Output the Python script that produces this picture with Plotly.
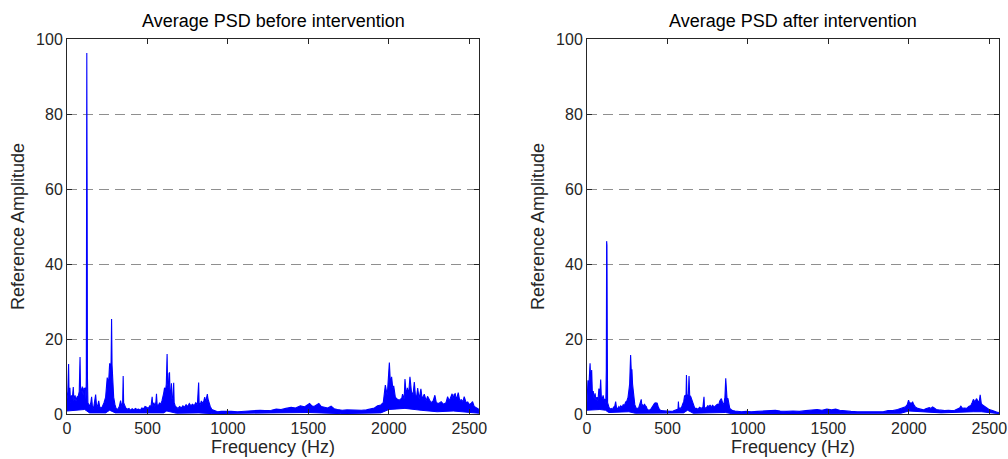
import plotly.graph_objects as go

# Upper envelope of the averaged spectrum before the intervention: (Hz, amplitude)
before_upper = [
    (0, 4.0), (5, 6.0), (10, 13.3), (13, 5.0), (18, 7.0), (22, 3.0), (28, 5.0), (33, 4.0),
    (39, 7.2), (43, 3.5), (50, 5.0), (56, 3.5), (62, 4.5), (70, 4.8), (76, 6.0), (81, 15.2),
    (84, 7.0), (90, 6.0), (95, 7.3), (100, 5.0), (105, 7.0), (110, 6.5), (115, 7.0), (118, 4.0),
    (120, 10.0), (121, 60.5), (122, 83.0), (123, 96.3), (124, 83.0), (125, 60.0), (127, 10.0),
    (130, 3.0), (140, 2.0), (148, 3.0), (153, 4.6), (158, 2.0), (165, 1.5), (172, 3.0),
    (178, 5.2), (183, 2.5), (190, 2.0), (197, 3.5), (203, 2.0), (210, 1.5), (220, 2.0),
    (230, 3.0), (240, 4.5), (250, 9.7), (258, 8.0), (265, 13.5), (270, 12.0), (274, 14.0),
    (277, 25.3), (280, 13.0), (284, 9.0), (290, 4.5), (298, 2.5), (305, 1.5), (315, 1.2),
    (325, 2.0), (333, 3.6), (340, 2.0), (346, 3.0), (349, 10.1), (352, 3.0), (358, 2.0),
    (365, 1.6), (375, 1.3), (385, 1.5), (395, 1.0), (405, 1.4), (415, 1.1), (425, 1.5),
    (435, 1.2), (445, 1.3), (455, 1.0), (465, 1.6), (475, 1.4), (485, 2.0), (495, 1.8),
    (505, 1.5), (515, 2.2), (522, 2.0), (529, 4.6), (533, 2.0), (540, 3.0), (546, 2.0),
    (552, 3.0), (556, 5.4), (560, 2.5), (568, 2.2), (575, 3.0), (582, 2.5), (590, 3.5),
    (596, 4.5), (601, 5.6), (606, 7.0), (612, 6.0), (617, 8.0), (622, 16.0), (625, 8.0),
    (630, 7.0), (634, 10.8), (637, 11.1), (640, 6.0), (645, 5.0), (649, 8.2), (652, 4.0),
    (658, 4.5), (663, 8.3), (666, 3.0), (672, 2.2), (680, 1.8), (690, 1.5), (700, 2.0),
    (710, 1.6), (720, 2.2), (730, 1.8), (740, 2.5), (750, 2.0), (760, 2.8), (770, 2.2),
    (780, 2.6), (790, 2.2), (800, 3.0), (810, 2.5), (818, 8.4), (821, 3.0), (828, 2.5),
    (835, 3.5), (842, 2.8), (850, 3.5), (856, 4.5), (862, 3.0), (868, 4.5), (872, 5.3),
    (876, 4.0), (882, 3.0), (890, 2.0), (900, 1.2), (910, 1.0), (920, 0.8), (935, 0.6),
    (960, 0.7), (990, 0.6), (1020, 0.7), (1060, 0.6), (1100, 0.7), (1130, 0.8), (1150, 1.0),
    (1175, 0.9), (1200, 1.0), (1230, 0.9), (1270, 1.0), (1300, 1.3), (1330, 1.2), (1360, 1.5),
    (1393, 1.8), (1420, 1.6), (1450, 2.2), (1475, 1.9), (1490, 2.3), (1507, 2.8), (1520, 2.2),
    (1535, 2.0), (1550, 2.4), (1565, 2.8), (1580, 2.0), (1600, 1.8), (1620, 1.6), (1641, 2.1),
    (1660, 1.4), (1680, 1.2), (1710, 1.0), (1740, 1.1), (1770, 1.0), (1800, 1.1), (1830, 1.0),
    (1860, 1.1), (1890, 1.3), (1910, 1.6), (1930, 2.2), (1950, 2.4), (1965, 3.0), (1978, 7.7),
    (1990, 5.0), (2003, 13.7), (2010, 8.0), (2017, 9.9), (2024, 7.0), (2030, 7.5), (2040, 4.5),
    (2050, 4.0), (2065, 3.7), (2080, 4.2), (2085, 5.3), (2095, 4.0), (2100, 9.3), (2108, 5.0),
    (2115, 7.0), (2122, 5.0), (2131, 9.9), (2140, 6.0), (2150, 5.0), (2158, 8.5), (2165, 5.0),
    (2172, 4.5), (2179, 6.9), (2188, 4.0), (2199, 6.7), (2207, 4.0), (2220, 5.3), (2232, 3.5),
    (2240, 4.7), (2251, 3.6), (2262, 3.0), (2275, 3.5), (2286, 5.0), (2295, 3.0), (2310, 2.8),
    (2325, 3.3), (2340, 2.6), (2355, 3.0), (2365, 4.6), (2375, 3.5), (2385, 4.5), (2393, 5.4),
    (2400, 4.0), (2405, 5.2), (2412, 5.4), (2420, 3.8), (2431, 5.7), (2440, 3.6), (2450, 3.8),
    (2460, 3.3), (2468, 4.6), (2480, 3.0), (2490, 3.2), (2499, 2.5), (2510, 2.8), (2520, 3.3),
    (2530, 2.0), (2545, 1.6), (2560, 1.2),
]

# Lower envelope of the same spectrum
before_lower = [
    (0, 0.8), (60, 1.0), (110, 1.2), (140, 0.3), (240, 0.3), (265, 1.0), (300, 0.3),
    (600, 0.3), (620, 0.8), (680, 0.2), (820, 0.3), (900, 0.1), (1400, 0.2), (1500, 0.4),
    (1700, 0.1), (1950, 0.3), (2000, 1.2), (2100, 1.5), (2200, 1.0), (2300, 0.6),
    (2400, 0.8), (2480, 0.6), (2560, 0.2),
]

# Upper envelope of the averaged spectrum after the intervention
after_upper = [
    (0, 3.0), (3, 5.5), (6, 9.0), (10, 6.0), (14, 11.0), (19, 13.5), (23, 9.0), (29, 11.7),
    (33, 6.0), (39, 6.0), (44, 4.0), (50, 5.5), (56, 3.7), (62, 4.5), (68, 3.5), (74, 6.8),
    (80, 5.0), (85, 9.2), (89, 4.6), (95, 4.0), (100, 5.0), (106, 3.7), (112, 4.0), (117, 3.0),
    (120, 12.0), (121, 40.0), (122, 46.1), (124, 45.0), (126, 20.0), (128, 3.0), (135, 2.0),
    (142, 1.3), (150, 1.5), (158, 1.2), (165, 1.8), (172, 2.0), (178, 3.3), (183, 1.8),
    (190, 1.3), (198, 2.0), (205, 1.6), (210, 2.2), (218, 1.8), (225, 2.5), (232, 2.2),
    (240, 3.2), (248, 3.5), (255, 4.5), (260, 6.2), (265, 8.0), (268, 12.0), (271, 15.7),
    (275, 11.5), (279, 11.9), (283, 8.0), (288, 6.0), (291, 4.6), (297, 2.5), (305, 1.6),
    (312, 1.5), (320, 1.5), (327, 2.5), (333, 3.3), (337, 3.9), (341, 2.2), (346, 2.4),
    (351, 1.8), (357, 2.7), (362, 2.2), (368, 2.0), (375, 1.2), (385, 1.0), (395, 1.2),
    (405, 1.8), (413, 2.6), (420, 2.9), (428, 3.0), (436, 2.9), (442, 2.0), (450, 1.2),
    (460, 0.9), (475, 0.8), (490, 0.7), (505, 0.8), (520, 0.7), (535, 0.8), (550, 1.0),
    (560, 1.2), (565, 1.0), (568, 3.3), (571, 1.2), (578, 1.6), (585, 1.5), (590, 2.5),
    (596, 2.8), (601, 3.3), (606, 4.8), (612, 5.0), (615, 4.0), (618, 10.4), (621, 5.0),
    (626, 4.6), (630, 5.5), (634, 10.1), (638, 5.0), (645, 4.6), (650, 4.0), (656, 3.0),
    (663, 2.4), (670, 1.5), (680, 1.5), (690, 1.3), (700, 1.8), (710, 1.5), (720, 1.8),
    (727, 4.6), (730, 1.8), (740, 1.5), (750, 2.2), (758, 2.0), (765, 2.4), (772, 1.6),
    (780, 2.4), (790, 1.8), (800, 2.2), (810, 2.6), (818, 2.4), (825, 3.5), (835, 4.1),
    (840, 3.0), (846, 2.5), (852, 3.0), (857, 4.5), (862, 9.5), (865, 5.0), (870, 4.2),
    (876, 4.1), (882, 2.8), (887, 1.5), (895, 1.2), (905, 0.9), (920, 0.8), (935, 0.7),
    (960, 0.6), (990, 0.7), (1020, 0.6), (1060, 0.7), (1100, 0.8), (1140, 0.9), (1170, 1.0),
    (1200, 0.8), (1240, 0.7), (1280, 0.8), (1320, 0.7), (1360, 0.9), (1400, 1.1), (1430, 1.2),
    (1460, 1.0), (1490, 1.3), (1520, 1.1), (1545, 1.3), (1570, 1.0), (1600, 0.8), (1640, 0.7),
    (1680, 0.6), (1720, 0.6), (1760, 0.6), (1800, 0.7), (1840, 0.6), (1870, 0.9), (1900, 0.9),
    (1930, 1.2), (1955, 1.5), (1979, 1.9), (1990, 2.5), (1998, 3.7), (2005, 2.8), (2013, 3.0),
    (2018, 2.4), (2023, 3.3), (2030, 2.5), (2040, 1.9), (2055, 1.5), (2070, 1.3), (2090, 1.1),
    (2105, 1.4), (2115, 1.5), (2127, 1.7), (2137, 1.5), (2147, 1.9), (2158, 1.6), (2170, 1.2),
    (2185, 1.1), (2200, 1.0), (2223, 0.9), (2245, 1.0), (2265, 0.9), (2285, 1.0), (2300, 1.4),
    (2315, 1.6), (2323, 2.1), (2333, 1.5), (2345, 1.6), (2360, 1.5), (2372, 2.0), (2385, 2.3),
    (2393, 3.0), (2401, 3.9), (2410, 3.2), (2420, 4.1), (2430, 3.4), (2437, 3.2), (2443, 5.1),
    (2450, 2.8), (2458, 2.4), (2470, 2.0), (2485, 1.6), (2498, 1.2), (2515, 1.0), (2529, 0.7),
    (2545, 0.5), (2560, 0.4),
]

after_lower = [
    (0, 1.0), (40, 1.2), (80, 1.2), (115, 1.0), (135, 0.4), (260, 0.6), (300, 0.2),
    (600, 0.3), (625, 1.0), (660, 0.2), (860, 0.4), (900, 0.1), (1950, 0.2), (2000, 0.8),
    (2100, 0.5), (2200, 0.3), (2400, 0.6), (2450, 0.6), (2560, 0.1),
]

panel_titles = ["Average PSD before intervention", "Average PSD after intervention"]
x_tick_vals = [0, 500, 1000, 1500, 2000, 2500]
y_tick_vals = [0, 20, 40, 60, 80, 100]
x_range = [0, 2560]
y_range = [0, 100]

W, H = 1008, 459
LINE_BLUE = "#0000FF"
AXIS_COLOR = "#262626"
FONT = "Liberation Sans, Arial, sans-serif"

# Plot-area placement in pixels: (left, right), (top, bottom)
x_pix = [(67, 479), (587, 999)]
y_pix = (39, 414)

fig = go.Figure()

panels = [(before_lower, before_upper), (after_lower, after_upper)]
for i, (lower, upper) in enumerate(panels):
    xa = "x" if i == 0 else "x2"
    ya = "y" if i == 0 else "y2"
    fig.add_trace(go.Scatter(
        x=[p[0] for p in lower], y=[p[1] for p in lower],
        mode="lines", line=dict(color=LINE_BLUE, width=1),
        xaxis=xa, yaxis=ya, showlegend=False, hoverinfo="skip",
    ))
    fig.add_trace(go.Scatter(
        x=[p[0] for p in upper], y=[p[1] for p in upper],
        mode="lines", line=dict(color=LINE_BLUE, width=1.1),
        fill="tonexty", fillcolor=LINE_BLUE,
        xaxis=xa, yaxis=ya, showlegend=False,
    ))

axis_common = dict(
    showline=True, linecolor=AXIS_COLOR, linewidth=1, mirror="ticks",
    ticks="inside", ticklen=5, tickwidth=1, tickcolor=AXIS_COLOR,
    tickfont=dict(family=FONT, size=16, color=AXIS_COLOR),
    zeroline=False, automargin=False,
)

y_dom = [1 - y_pix[1] / H, 1 - y_pix[0] / H]
layout_axes = {}
for i, (l, r) in enumerate(x_pix):
    sfx = "" if i == 0 else "2"
    layout_axes["xaxis" + sfx] = dict(
        axis_common, domain=[l / W, r / W], range=x_range,
        tickvals=x_tick_vals, showgrid=False,
        anchor="y" + sfx,
        title=dict(text="Frequency (Hz)", font=dict(family=FONT, size=18, color=AXIS_COLOR), standoff=2),
    )
    layout_axes["yaxis" + sfx] = dict(
        axis_common, domain=y_dom, range=y_range,
        tickvals=y_tick_vals, showgrid=True,
        gridcolor="#8f8f8f", gridwidth=1.4, griddash="10px,6px",
        anchor="x" + sfx,
        title=dict(text="Reference Amplitude", font=dict(family=FONT, size=18, color=AXIS_COLOR), standoff=6),
    )

annotations = []
for i, (l, r) in enumerate(x_pix):
    annotations.append(dict(
        text=panel_titles[i], xref="paper", yref="paper",
        x=(l + r) / 2 / W, y=y_dom[1], xanchor="center", yanchor="bottom",
        yshift=6, showarrow=False,
        font=dict(family=FONT, size=18, color="#000000"),
    ))

fig.update_layout(
    width=W, height=H,
    margin=dict(l=0, r=0, t=0, b=0, autoexpand=False),
    paper_bgcolor="white", plot_bgcolor="white",
    annotations=annotations,
    **layout_axes,
)

fig.write_html("out.html")
